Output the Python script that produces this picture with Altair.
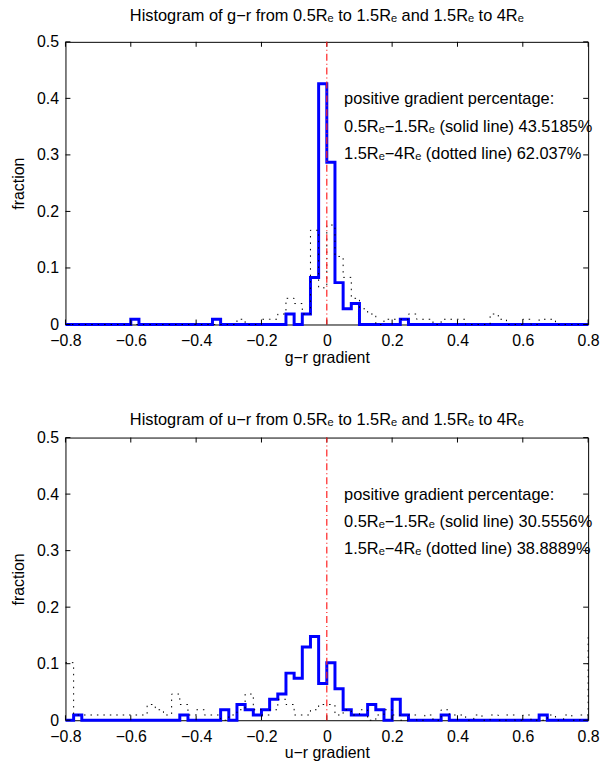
import altair as alt
import pandas as pd

FONT = "Liberation Sans, Arial, Helvetica, DejaVu Sans, sans-serif"
FS = 16
FS_TEXT = 16.5

# Histogram bins: 65 bin positions from -0.8 to 0.8 every 0.025
BIN_START = -0.8
BIN_WIDTH = 0.025
N_BINS = 65
N_GALAXIES = 108

# Galaxy counts per bin index ({bin index: count}); empty bins omitted
gr_inner_counts = {8: 1, 18: 1, 27: 2, 29: 2, 30: 9, 31: 46, 32: 31, 33: 8,
                   34: 3, 35: 4, 41: 1}
gr_outer_counts = {21: 1, 24: 1, 25: 1, 26: 2, 27: 5, 28: 4, 29: 2, 30: 18,
                   31: 7, 32: 19, 33: 13, 34: 9, 35: 5, 36: 3, 37: 2, 39: 1,
                   40: 1, 41: 1, 42: 2, 43: 1, 44: 1, 46: 1, 47: 1, 48: 1,
                   52: 2, 53: 1, 56: 1, 58: 1, 59: 1}
ur_inner_counts = {1: 1, 14: 1, 19: 2, 21: 3, 22: 2, 23: 1, 24: 2, 25: 4,
                   26: 5, 27: 9, 28: 8, 29: 14, 30: 16, 31: 7, 32: 11, 33: 6,
                   34: 2, 35: 1, 36: 1, 37: 3, 38: 2, 40: 4, 41: 1, 46: 1,
                   58: 1}
ur_outer_counts = {0: 11, 1: 1, 2: 1, 3: 1, 4: 1, 5: 1, 6: 1, 7: 1, 8: 1,
                   9: 1, 10: 3, 11: 2, 12: 1, 13: 5, 14: 3, 15: 1, 16: 2,
                   17: 1, 18: 1, 20: 1, 21: 2, 22: 5, 23: 2, 24: 1, 25: 2,
                   26: 4, 27: 3, 28: 1, 29: 1, 30: 2, 31: 3, 32: 3, 33: 1,
                   34: 2, 35: 1, 36: 2, 38: 1, 39: 2, 40: 1, 42: 1, 44: 1,
                   46: 2, 47: 1, 48: 1, 50: 1, 52: 1, 54: 1, 56: 1, 59: 1,
                   61: 1, 63: 1, 64: 16}

# Positive-gradient percentages quoted in each panel
gr_pct_inner, gr_pct_outer = "43.5185%", "62.037%"
ur_pct_inner, ur_pct_outer = "30.5556%", "38.8889%"

x_ticks = [-0.8, -0.6, -0.4, -0.2, 0.0, 0.2, 0.4, 0.6, 0.8]
y_ticks = [0.0, 0.1, 0.2, 0.3, 0.4, 0.5]

PLOT_W, PLOT_H = 527, 285
TICK = 5

xs = alt.Scale(domain=[-0.8, 0.8], nice=False, zero=False)
ys = alt.Scale(domain=[0, 0.5], nice=False, zero=False)
LABEL_EXPR = "datum.value == 0 ? '0' : format(datum.value, '.1f')"


def hist_frame(counts):
    xs_ = [round(BIN_START + i * BIN_WIDTH, 4) for i in range(N_BINS)]
    fr = [counts.get(i, 0) / N_GALAXIES for i in range(N_BINS)]
    return pd.DataFrame({"x": xs_, "frac": fr})


def panel(colour_name, inner, outer, pct_inner, pct_outer, title_offset):
    x_axis = alt.Axis(values=x_ticks, ticks=False, domain=False, grid=False,
                      labelExpr=LABEL_EXPR, labelFont=FONT, labelFontSize=FS,
                      labelColor="black", labelPadding=8, labelFlush=False,
                      labelOverlap=False,
                      title=f"{colour_name} gradient", titleFont=FONT,
                      titleFontSize=FS, titleFontWeight="normal",
                      titleColor="black", titlePadding=1)
    y_axis = alt.Axis(values=y_ticks, ticks=False, domain=False, grid=False,
                      labelExpr=LABEL_EXPR, labelFont=FONT, labelFontSize=FS,
                      labelColor="black", labelPadding=7, labelFlush=False,
                      labelOverlap=False, title="fraction",
                      titleFont=FONT, titleFontSize=FS,
                      titleFontWeight="normal", titleColor="black",
                      titlePadding=10)
    X = alt.X("x:Q", scale=xs, axis=x_axis)
    Y = alt.Y("frac:Q", scale=ys, axis=y_axis)

    solid = alt.Chart(hist_frame(inner)).mark_line(
        interpolate="step-after", color="#0000ff", strokeWidth=3,
        strokeJoin="miter", strokeCap="butt"
    ).encode(x=X, y=Y)

    dotted = alt.Chart(hist_frame(outer)).mark_line(
        interpolate="step-after", color="black", strokeWidth=1,
        strokeDash=[1.5, 5]
    ).encode(x=X, y=Y)

    zero_line = alt.Chart(pd.DataFrame({"x": [0.0], "frac": [0.0], "top": [0.5]})).mark_rule(
        color="#ff2020", stroke="#ff2020", strokeWidth=1.2,
        strokeDash=[7, 3, 1, 3]
    ).encode(x=X, y=Y, y2="top:Q")

    notes = pd.DataFrame({
        "x": [0.053, 0.053, 0.053],
        "frac": [0.398, 0.350, 0.302],
        "label": ["positive gradient percentage:",
                  f"0.5R\u2091\u22121.5R\u2091 (solid line) {pct_inner}",
                  f"1.5R\u2091\u22124R\u2091 (dotted line) {pct_outer}"],
    })
    text = alt.Chart(notes).mark_text(
        align="left", baseline="middle", font=FONT, fontSize=FS_TEXT,
        color="black"
    ).encode(x=X, y=Y, text="label:N")

    # inward tick marks on all four sides of the frame
    xt = pd.DataFrame({"x": x_ticks})
    yt = pd.DataFrame({"frac": y_ticks})
    tick_style = dict(color="black", strokeWidth=1)
    xt_bot = alt.Chart(xt).mark_rule(**tick_style).encode(
        x=X, y=alt.value(PLOT_H), y2=alt.value(PLOT_H - TICK))
    xt_top = alt.Chart(xt).mark_rule(**tick_style).encode(
        x=X, y=alt.value(0), y2=alt.value(TICK))
    yt_left = alt.Chart(yt).mark_rule(**tick_style).encode(
        y=Y, x=alt.value(0), x2=alt.value(TICK))
    yt_right = alt.Chart(yt).mark_rule(**tick_style).encode(
        y=Y, x=alt.value(PLOT_W), x2=alt.value(PLOT_W - TICK))

    title = alt.Title(
        f"Histogram of {colour_name} from 0.5R\u2091 to 1.5R\u2091 and 1.5R\u2091 to 4R\u2091",
        font=FONT, fontSize=FS_TEXT, fontWeight="normal", color="black",
        offset=title_offset, anchor="middle")

    return alt.layer(solid, xt_bot, xt_top, yt_left, yt_right, dotted,
                     zero_line, text).properties(width=PLOT_W, height=PLOT_H,
                                                 title=title)


top = panel("g\u2212r", gr_inner_counts, gr_outer_counts, gr_pct_inner,
            gr_pct_outer, 10)
bottom = panel("u\u2212r", ur_inner_counts, ur_outer_counts, ur_pct_inner,
               ur_pct_outer, 1)

chart = alt.vconcat(top, bottom, spacing=46).properties(
    background="white",
    padding={"left": 10, "top": 4, "right": 5, "bottom": 5},
).configure_view(stroke="black", strokeWidth=1)

chart.save("out.html", embed_options={"renderer": "svg", "actions": False})
